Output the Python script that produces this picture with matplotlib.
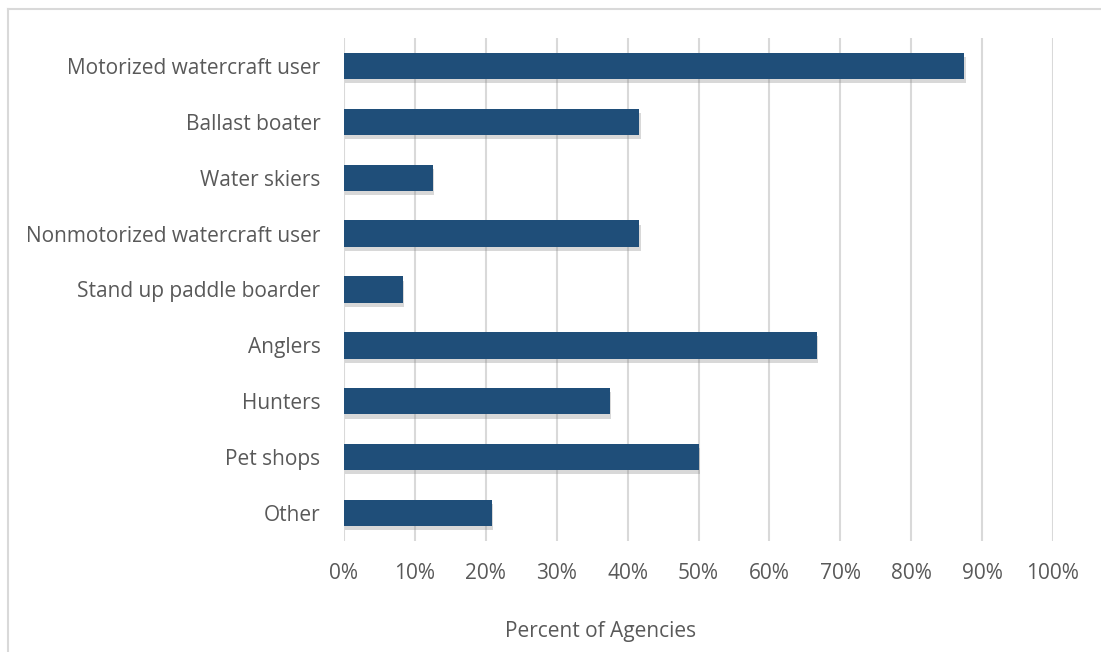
import numpy as np
import matplotlib.pyplot as plt
import matplotlib.patheffects as pe
from matplotlib.lines import Line2D
from matplotlib.ticker import FuncFormatter

# ----------------------------------------------------------------------
# Data (percent of agencies, top to bottom)
# ----------------------------------------------------------------------
categories = [
    'Motorized watercraft user',
    'Ballast boater',
    'Water skiers',
    'Nonmotorized watercraft user',
    'Stand up paddle boarder',
    'Anglers',
    'Hunters',
    'Pet shops',
    'Other',
]
percents = [87.5, 41.67, 12.5, 41.67, 8.33, 66.67, 37.5, 50.0, 20.83]
x_ticks = list(range(0, 101, 10))

BAR_COLOR = '#1F4E79'
TEXT_COLOR = '#595959'
GRID_COLOR = '#D9D9D9'

plt.rcParams['font.family'] = ['Open Sans', 'DejaVu Sans']

W, H = 1101, 652
fig = plt.figure(figsize=(W / 100, H / 100), dpi=100)
ax = fig.add_axes([344 / W, 1 - 541 / H, (1053 - 344) / W, (541 - 38) / H])

y = np.arange(len(categories))
bars = ax.barh(y, percents, height=0.47, color=BAR_COLOR, zorder=3)
for b in bars:
    b.set_path_effects([
        pe.SimplePatchShadow(offset=(1.0, -3.0), shadow_rgbFace='#808080', alpha=0.3),
        pe.Normal(),
    ])

ax.set_ylim(len(categories) - 0.5, -0.5)
ax.set_yticks(y)
ax.set_yticklabels(categories)
ax.set_xlim(0, 100)
ax.set_xticks(x_ticks)
ax.xaxis.set_major_formatter(FuncFormatter(lambda v, _: f'{v:.0f}%'))

ax.grid(axis='x', color=GRID_COLOR, linewidth=1.5, zorder=0)
ax.set_axisbelow(True)
for s in ax.spines.values():
    s.set_visible(False)
ax.tick_params(axis='y', length=0, labelsize=15, labelcolor=TEXT_COLOR, pad=17)
ax.tick_params(axis='x', length=0, labelsize=15, labelcolor=TEXT_COLOR, pad=16)

fig.text(601 / W, 1 - 631 / H, 'Percent of Agencies', fontsize=15,
         color=TEXT_COLOR, ha='center', va='center')

# light chart-area border (top and left only, as in the reference)
fig.add_artist(Line2D([7.5 / W, 1], [1 - 8.5 / H, 1 - 8.5 / H],
                      transform=fig.transFigure, color='#D9D9D9', lw=1.5))
fig.add_artist(Line2D([7.5 / W, 7.5 / W], [0, 1 - 8.5 / H],
                      transform=fig.transFigure, color='#D9D9D9', lw=1.5))

fig.savefig('out.png', dpi=100, facecolor='white')
